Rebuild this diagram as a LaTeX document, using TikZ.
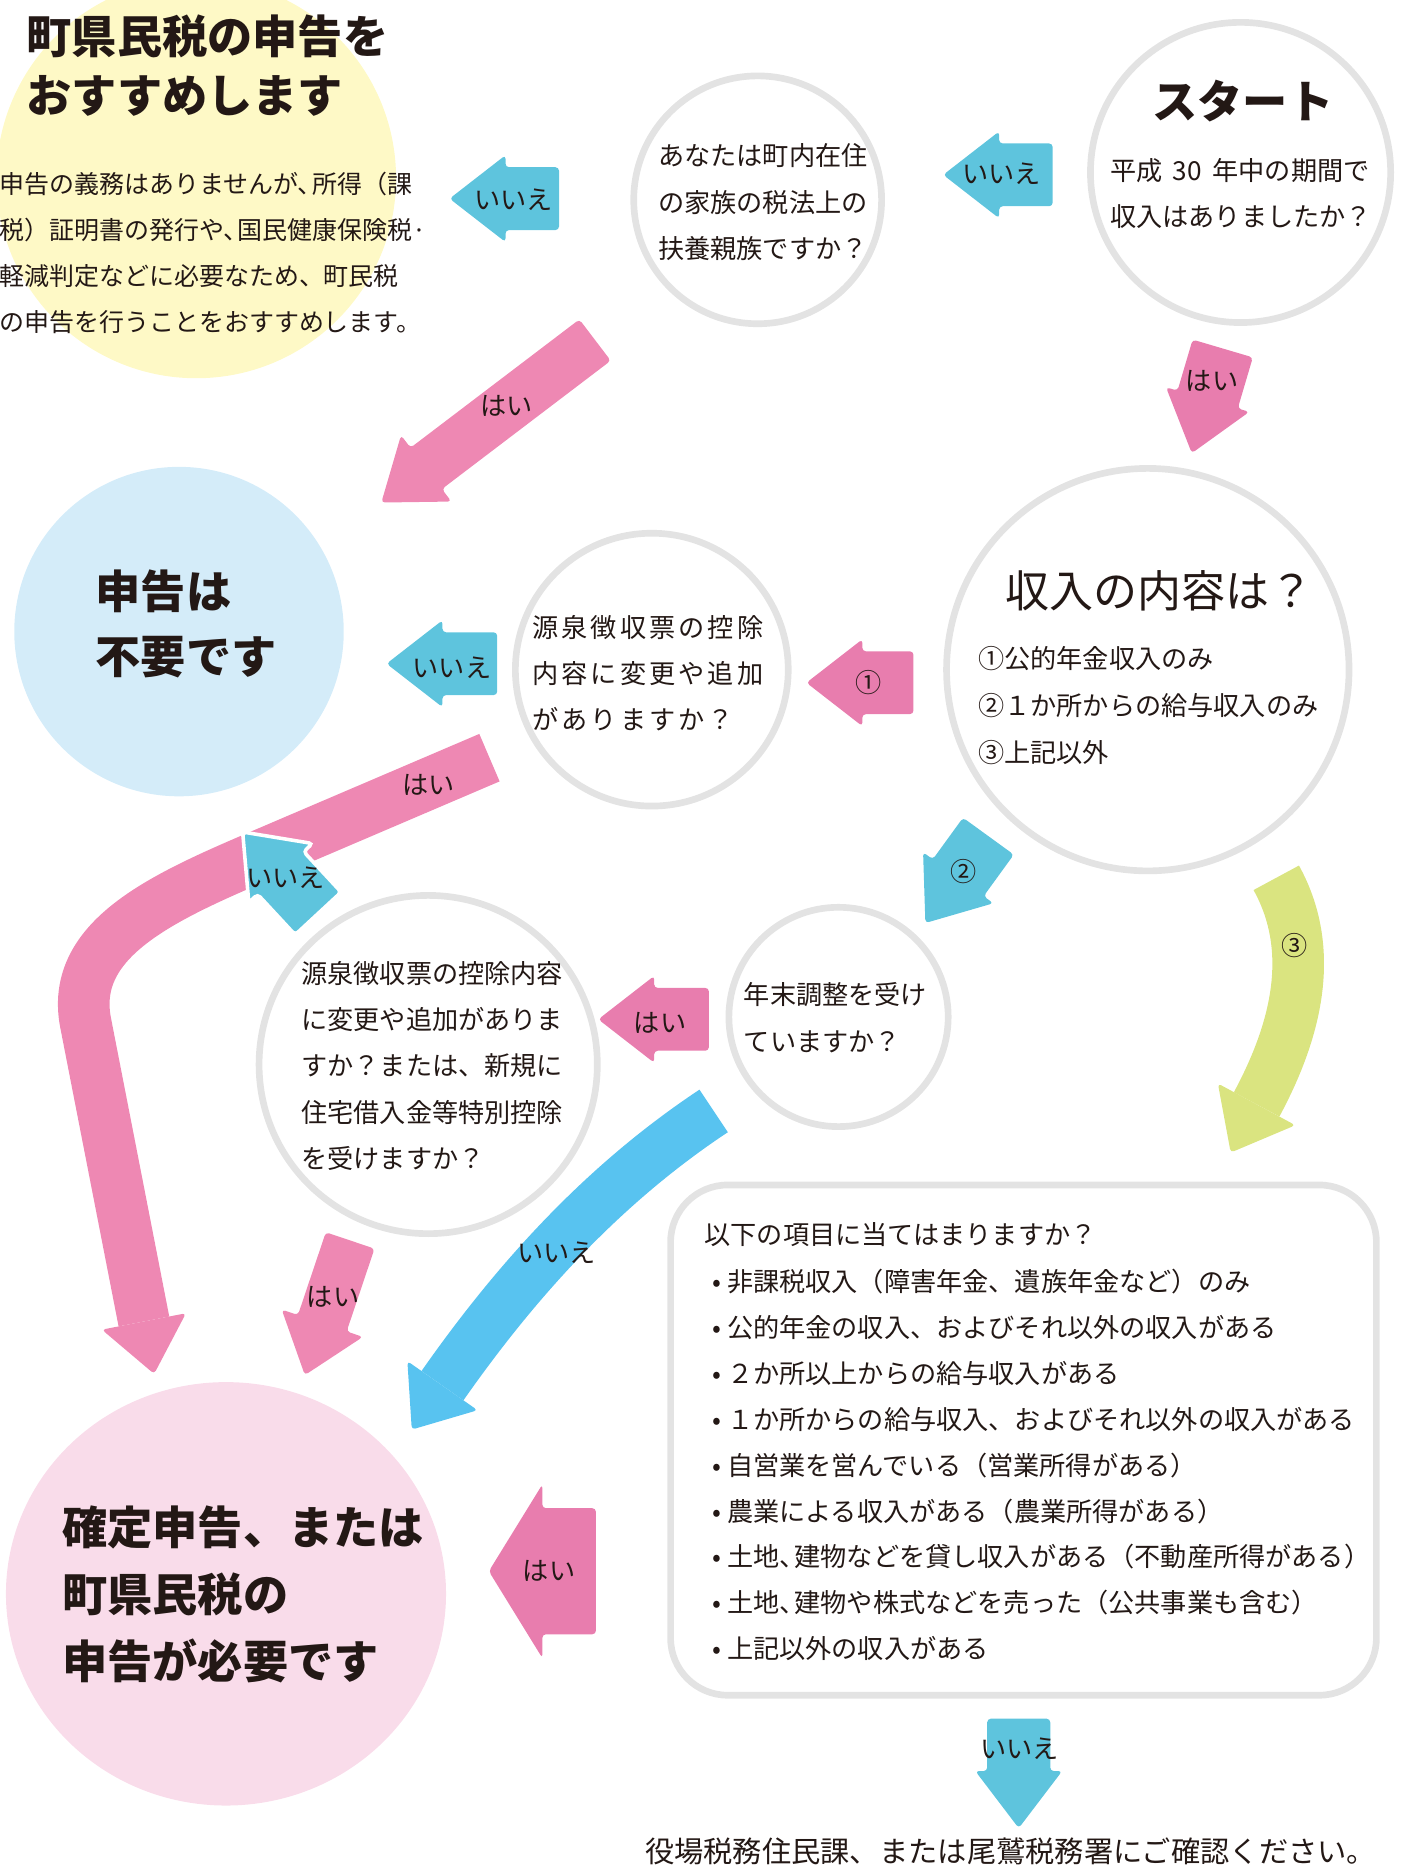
\documentclass[tikz,border=0pt]{standalone}
\usepackage{fontspec}
\setmainfont{Noto Sans CJK JP}
\usetikzlibrary{calc,shapes.geometric}
\definecolor{inkBlack}{RGB}{35,24,21}
\definecolor{ringGray}{RGB}{227,227,227}
\definecolor{tagBlue}{RGB}{94,196,221}
\definecolor{skyBlue}{RGB}{88,195,240}
\definecolor{tagPink}{RGB}{232,125,174}
\definecolor{bandPink}{RGB}{238,136,179}
\definecolor{limeGreen}{RGB}{218,228,128}
\definecolor{paleYellow}{RGB}{254,249,198}
\definecolor{paleBlue}{RGB}{212,236,249}
\definecolor{palePink}{RGB}{249,220,234}
%% Sizes of the small labelled arrows.
\newcommand{\tagShaft}{13.2pt}
\newcommand{\tagHead}{18.25pt}
\newcommand{\tagTip}{23.5pt}
%% A narrow comma.
\newcommand{\tten}{、\kern-0.42em}
\newcommand{\blockArrow}[6]{%%
  %% #1 style, #2 tail, #3 tip, #4 half shaft, #5 half head, #6 head length
  \coordinate (headBase) at ($(#3)!#6!(#2)$);
  \fill[#1, rounded corners=1.5pt]
    ($(#2)!#4!90:(#3)$) -- ($(headBase)!#4!90:(#3)$)
    -- ($(headBase)!#5!90:(#3)$) -- (#3)
    -- ($(headBase)!#5!-90:(#3)$) -- ($(headBase)!#4!-90:(#3)$)
    -- ($(#2)!#4!-90:(#3)$) -- cycle;
}
\newcommand{\arrowHead}[4]{%%
  %% #1 colour, #2 base, #3 tip, #4 half head
  \fill[#1, rounded corners=1.5pt]
    ($(#2)!#4!90:(#3)$) -- (#3) -- ($(#2)!#4!-90:(#3)$) -- cycle;
}

\begin{document}
\begin{tikzpicture}[x=0.5pt, y=-0.5pt,
  ringStyle/.style={circle, draw=ringGray, line width=2.8pt, fill=white, inner sep=0pt},
  blobStyle/.style={circle, inner sep=0pt},
  bodyText/.style={anchor=west, align=left, inner sep=0pt, text=inkBlack,
    font=\fontsize{11}{19.5}\selectfont},
  headText/.style={anchor=west, align=left, inner sep=0pt, text=inkBlack,
    font=\bfseries\fontsize{19}{27.5}\selectfont},
  tagText/.style={inner sep=0pt, text=inkBlack, font=\fontsize{11}{13}\selectfont}
]
\useasboundingbox (0,0) rectangle (1193,1568);
%%
%% Coloured discs.
\node[blobStyle, fill=paleYellow, minimum size=168pt] (blobRecommend) at (165,150) {};
\node[blobStyle, fill=paleBlue, minimum size=138.5pt] (blobNoNeed) at (150.5,531) {};
\node[ellipse, inner sep=0pt, fill=palePink, minimum width=185pt, minimum height=178pt]
  (blobNeed) at (190,1340) {};
%%
%% Question rings.
\node[ringStyle, minimum size=126.2pt] (ringStart) at (1043,145) {};
\node[ringStyle, minimum size=104.2pt] (ringFamily) at (637,168) {};
\node[ringStyle, minimum size=114.7pt] (ringSlip) at (548,563) {};
\node[ringStyle, minimum size=169.2pt] (ringIncome) at (965,563) {};
\node[ringStyle, minimum size=142.2pt] (ringSlipHouse) at (360,895) {};
\node[ringStyle, minimum size=92.2pt] (ringAdjust) at (705,855) {};
\node[rectangle, draw=ringGray, line width=2.8pt, fill=white, rounded corners=24pt,
  minimum width=296.7pt, minimum height=214.5pt] (itemBox) at (860.5,1210.75) {};
%%
%% Coordinates of the arrows.
\coordinate (noFamilyTail) at (470,167);
\coordinate (noFamilyTip) at (378,167);
\coordinate (noStartTail) at (885,147);
\coordinate (noStartTip) at (793,147);
\coordinate (yesStartTail) at (1028,293);
\coordinate (yesStartTip) at (1002,381);
\coordinate (yesFamilyTail) at (500.3,285.9);
\coordinate (yesFamilyTip) at (320.6,422.5);
\coordinate (noSlipTail) at (418,558);
\coordinate (noSlipTip) at (325,558);
\coordinate (oneTail) at (768,574);
\coordinate (oneTip) at (678,574);
\coordinate (twoTail) at (831,703);
\coordinate (twoTip) at (778,776);
\coordinate (yesAdjustTail) at (596,857);
\coordinate (yesAdjustTip) at (503,857);
\coordinate (noHouseTail) at (267.5,768);
\coordinate (noHouseTip) at (204,699.5);
\coordinate (yesHouseTail) at (294.4,1042.9);
\coordinate (yesHouseTip) at (256.3,1156.1);
\coordinate (yesItemTail) at (501,1321);
\coordinate (yesItemTip) at (411,1321);
\coordinate (noItemTail) at (856.5,1445);
\coordinate (noItemTip) at (856.5,1537);
%% Curved arrows.
\coordinate (bandTail) at (411.5,637);
\coordinate (bandBend) at (215,721);
\coordinate (bandFoot) at (72,860);
\coordinate (bandBase) at (121,1111);
\coordinate (bandTip) at (129.6,1155.1);
\coordinate (skyTail) at (600,934);
\coordinate (skyBase) at (372,1165);
\coordinate (skyTip) at (346.2,1201.9);
\coordinate (limeTail) at (1073,738);
\coordinate (limeBase) at (1056.5,928.5);
\coordinate (limeTip) at (1034.7,969);
%%
%% Curved arrows.
\draw[bandPink, line width=21.7pt] (bandTail) -- (bandBend)
  .. controls (132.2,756.4) and (58.6,791.4) .. (bandFoot) -- (bandBase);
\arrowHead{bandPink}{bandBase}{bandTip}{18pt}
\draw[skyBlue, line width=21.5pt] (skyTail)
  .. controls (508,995) and (435,1075) .. (skyBase);
\arrowHead{skyBlue}{skyBase}{skyTip}{18pt}
\draw[limeGreen, line width=21.7pt] (limeTail)
  .. controls (1106.9,799.3) and (1089.7,866.8) .. (limeBase);
\arrowHead{limeGreen}{limeBase}{limeTip}{18.5pt}
%%
%% Straight arrows.
\blockArrow{tagBlue}{noFamilyTail}{noFamilyTip}{\tagShaft}{\tagHead}{\tagTip}
\blockArrow{tagBlue}{noStartTail}{noStartTip}{\tagShaft}{\tagHead}{\tagTip}
\blockArrow{tagPink}{yesStartTail}{yesStartTip}{\tagShaft}{\tagHead}{\tagTip}
\blockArrow{bandPink}{yesFamilyTail}{yesFamilyTip}{10.9pt}{17.5pt}{23.7pt}
\blockArrow{tagBlue}{noSlipTail}{noSlipTip}{\tagShaft}{\tagHead}{\tagTip}
\blockArrow{tagPink}{oneTail}{oneTip}{\tagShaft}{\tagHead}{\tagTip}
\blockArrow{tagBlue}{twoTail}{twoTip}{\tagShaft}{\tagHead}{\tagTip}
\blockArrow{tagPink}{yesAdjustTail}{yesAdjustTip}{\tagShaft}{\tagHead}{\tagTip}
\blockArrow{tagBlue, draw=white, line width=1.5pt}{noHouseTail}{noHouseTip}{\tagShaft}{\tagHead}{\tagTip}
\blockArrow{bandPink}{yesHouseTail}{yesHouseTip}{10.8pt}{18pt}{23pt}
\blockArrow{tagPink}{yesItemTail}{yesItemTip}{26.5pt}{36.5pt}{22.5pt}
\blockArrow{tagBlue}{noItemTail}{noItemTip}{13.25pt}{18.25pt}{24pt}
%%
%% Arrow labels.
\node[tagText] (noFamilyTag) at (432,168) {いいえ};
\node[tagText] (noStartTag) at (842,146) {いいえ};
\node[tagText] (yesStartTag) at (1019,320) {はい};
\node[tagText] (yesFamilyTag) at (426,341) {はい};
\node[tagText] (noSlipTag) at (380,561) {いいえ};
\node[tagText] (oneTag) at (730,574) {①};
\node[tagText] (twoTag) at (810,733) {②};
\node[tagText] (threeTag) at (1088,795) {③};
\node[tagText] (yesAdjustTag) at (555,860) {はい};
\node[tagText] (yesBandTag) at (360,660) {はい};
\node[tagText] (noHouseTag) at (240,738) {いいえ};
\node[tagText] (noSkyTag) at (468,1053) {いいえ};
\node[tagText] (yesHouseTag) at (280,1090) {はい};
\node[tagText] (yesItemTag) at (461.7,1321) {はい};
\node[tagText] (noItemTag) at (857,1470) {いいえ};
%%
%% Texts.
\node[headText, font=\bfseries\fontsize{19}{25}\selectfont] (recommendHead) at (22,55)
  {町県民税の申告を\\おすすめします};
\node[bodyText, font=\fontsize{10.5}{19.35}\selectfont] (recommendBody) at (-1,213)
  {申告の義務はありませんが\tten 所得（課\\
   税）証明書の発行や\tten 国民健康保険税·\\
   軽減判定などに必要なため、町民税\\
   の申告を行うことをおすすめします。};
\node[headText] (noNeedHead) at (80,524.5) {申告は\\不要です};
\node[headText, font=\bfseries\fontsize{19}{28.25}\selectfont] (needHead) at (52,1340.5)
  {確定申告、または\\町県民税の\\申告が必要です};
\node[inner sep=0pt, text=inkBlack, font=\bfseries\fontsize{19}{22}\selectfont]
  (startHead) at (1045,85) {スタート};
\node[bodyText] (startText) at (933,162.5)
  {平成\hspace{0.4em}30\hspace{0.4em}年中の期間で\\収入はありましたか？};
\node[bodyText] (familyText) at (553,170)
  {あなたは町内在住\\の家族の税法上の\\扶養親族ですか？};
\node[bodyText, font=\addfontfeature{LetterSpace=12}\fontsize{11}{19.5}\selectfont]
  (slipText) at (447,566)
  {源泉徴収票の控除\\内容に変更や追加\\がありますか？};
\node[inner sep=0pt, text=inkBlack, font=\fontsize{18.5}{22}\selectfont]
  (incomeHead) at (975,497) {収入の内容は？};
\node[bodyText, font=\fontsize{11}{19.75}\selectfont] (incomeText) at (822,593.5)
  {①公的年金収入のみ\\②１か所からの給与収入のみ\\③上記以外};
\node[bodyText] (slipHouseText) at (253,896)
  {源泉徴収票の控除内容\\に変更や追加がありま\\すか？または、新規に\\住宅借入金等特別控除\\を受けますか？};
\node[bodyText] (adjustText) at (625,855.5) {年末調整を受け\\ていますか？};
\node[bodyText] (itemHead) at (592,1038) {以下の項目に当てはまりますか？};
\node[bodyText, font=\fontsize{11}{19.3}\selectfont] (itemList) at (599,1231.7)
  {•\hspace{0.2em}非課税収入（障害年金、遺族年金など）のみ\\
   •\hspace{0.2em}公的年金の収入、およびそれ以外の収入がある\\
   •\hspace{0.2em}２か所以上からの給与収入がある\\
   •\hspace{0.2em}１か所からの給与収入、およびそれ以外の収入がある\\
   •\hspace{0.2em}自営業を営んでいる（営業所得がある）\\
   •\hspace{0.2em}農業による収入がある（農業所得がある）\\
   •\hspace{0.2em}土地\tten 建物などを貸し収入がある（不動産所得がある）\\
   •\hspace{0.2em}土地\tten 建物や株式などを売った（公共事業も含む）\\
   •\hspace{0.2em}上記以外の収入がある};
\node[bodyText, font=\fontsize{12.3}{14}\selectfont] (contactText) at (542,1556.8)
  {役場税務住民課、または尾鷲税務署にご確認ください。};
\end{tikzpicture}
\end{document}
